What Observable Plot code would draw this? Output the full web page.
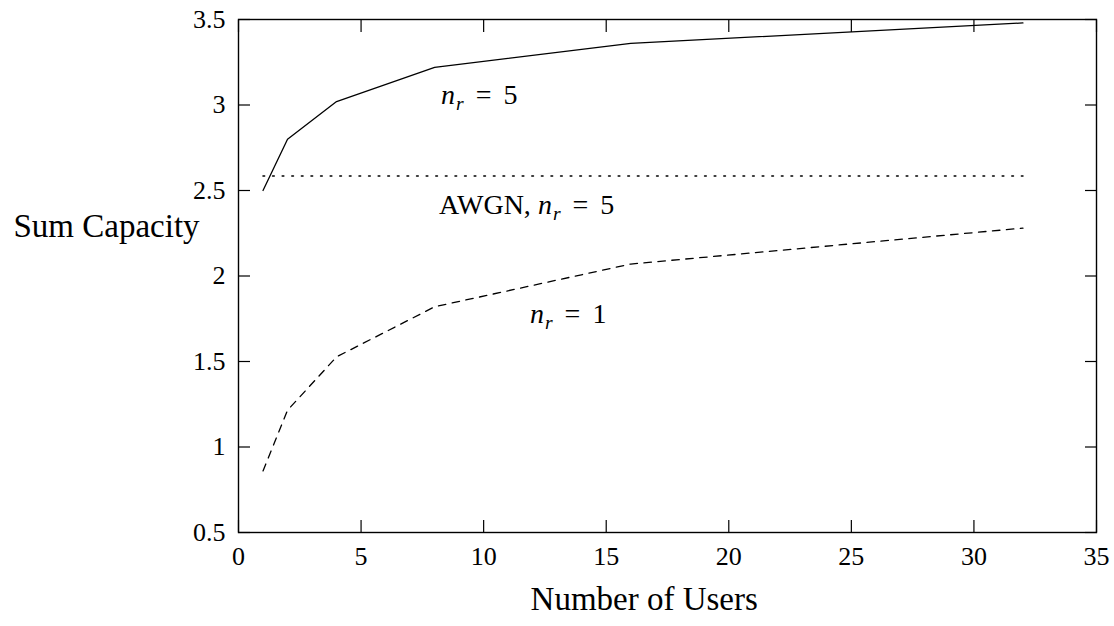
<!DOCTYPE html>
<html>
<head>
<meta charset="utf-8">
<script src="https://cdn.jsdelivr.net/npm/d3@7"></script>
<script src="https://cdn.jsdelivr.net/npm/@observablehq/plot@0.6"></script>
<style>
  body { margin: 0; background: #fff; }
  svg, svg text, svg tspan { font-family: "Liberation Serif", "Times New Roman", serif !important; }
</style>
</head>
<body>
<div id="chart"></div>
<script>
// ---- data ----
const users = [1, 2, 4, 8, 16, 32];
const capNr5 = [2.50, 2.80, 3.02, 3.22, 3.36, 3.48];
const capNr1 = [0.86, 1.215, 1.527, 1.82, 2.07, 2.28];
const awgnUsers = [1, 32];
const awgnCap = [2.585, 2.585];
const xTicks = [0, 5, 10, 15, 20, 25, 30, 35];
const yTicks = [0.5, 1, 1.5, 2, 2.5, 3, 3.5];
const labelText = ["n_r = 5", "AWGN, n_r = 5", "n_r = 1"];
const labelX = [8.26, 8.18, 11.89];
const labelY = [3.061, 2.414, 1.779];
const xTitle = "Number of Users";
const yTitle = "Sum Capacity";
const xTitleAt = 16.55;
const yTitleAt = 2.292;

const nr5 = users.map((u, i) => ({x: u, y: capNr5[i]}));
const nr1 = users.map((u, i) => ({x: u, y: capNr1[i]}));
const awgn = awgnUsers.map((u, i) => ({x: u, y: awgnCap[i]}));
const labels = labelText.map((t, i) => ({t, x: labelX[i], y: labelY[i]}));

const svg = Plot.plot({
  width: 1114,
  height: 626,
  marginLeft: 238,
  marginRight: 18,
  marginTop: 19,
  marginBottom: 94,
  style: {fontFamily: "Liberation Serif, serif", fontSize: "26px", background: "#fff", color: "#000"},
  x: {domain: [0, 35]},
  y: {domain: [0.5, 3.5]},
  marks: [
    Plot.axisX(xTicks, {anchor: "bottom", tickSize: -12, tickPadding: 26, tickFormat: d => String(d), label: null, strokeWidth: 1.2}),
    Plot.axisX(xTicks, {anchor: "top", tickSize: -12, tickFormat: () => "", label: null, strokeWidth: 1.2}),
    Plot.axisY(yTicks, {anchor: "left", tickSize: -12, tickPadding: 25, tickFormat: d => String(d), label: null, strokeWidth: 1.2}),
    Plot.axisY(yTicks, {anchor: "right", tickSize: -12, tickFormat: () => "", label: null, strokeWidth: 1.2}),
    Plot.frame({stroke: "#000", strokeWidth: 1.4}),
    Plot.line(nr5, {x: "x", y: "y", stroke: "#000", strokeWidth: 1.3}),
    Plot.line(nr1, {x: "x", y: "y", stroke: "#000", strokeWidth: 1.3, strokeDasharray: "7.5,6.5"}),
    Plot.line(awgn, {x: "x", y: "y", stroke: "#000", strokeWidth: 1.6, strokeDasharray: "1.6,8"}),
    Plot.text(labels, {x: "x", y: "y", text: "t", textAnchor: "start", fontSize: 28, fill: "#000", className: "annot"}),
    Plot.text([xTitle], {x: [xTitleAt], frameAnchor: "bottom", dy: 77, text: d => d, fontSize: 33, fill: "#000"}),
    Plot.text([yTitle], {y: [yTitleAt], frameAnchor: "left", dx: -225, text: d => d, textAnchor: "start", fontSize: 33, fill: "#000"})
  ]
});

// math-style rendering of n_r (italic n, subscript r, spaced "=")
d3.select(svg).selectAll("g.annot text").each(function () {
  const s = this.textContent;
  const i = s.indexOf("n_r");
  if (i < 0) return;
  const pre = s.slice(0, i), post = s.slice(i + 3);
  const m = post.match(/^\s*=\s*(.*)$/);
  const t = d3.select(this);
  t.text(null);
  if (pre) t.append("tspan").text(pre);
  t.append("tspan").attr("font-style", "italic").text("n");
  t.append("tspan").attr("font-style", "italic").attr("font-size", "19.6px").attr("dy", "6").attr("dx", "1").text("r");
  if (m) {
    t.append("tspan").attr("dy", "-6").attr("dx", "5").text(" =");
    t.append("tspan").attr("dx", "5").text(" " + m[1]);
  } else {
    t.append("tspan").attr("dy", "-6").text(post);
  }
});

document.getElementById("chart").appendChild(svg);
</script>
</body>
</html>
